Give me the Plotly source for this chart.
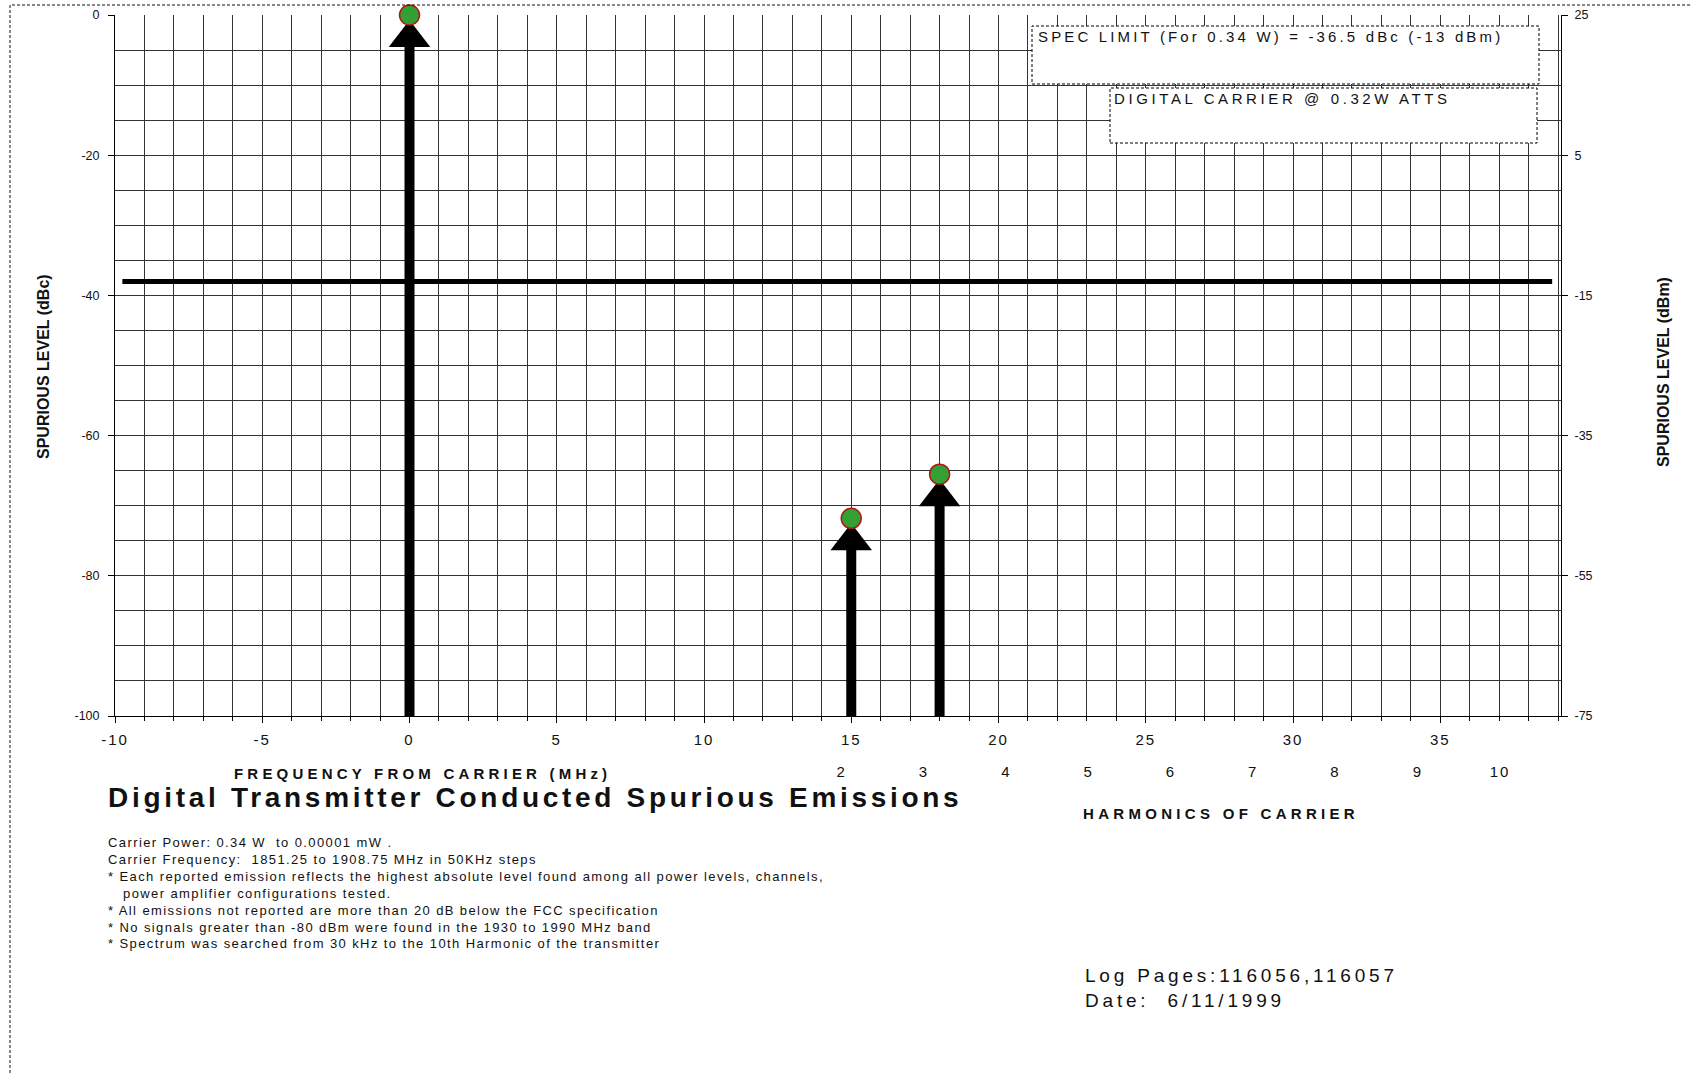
import plotly.graph_objects as go

# ---------------- data ----------------
freq_mhz = [0, 15, 18]                 # emission offsets from carrier (MHz)
level_dbc = [0, -71.8, -65.5]          # emission levels (dBc)
spec_limit_dbm = -13                   # FCC spec limit (dBm, right axis)
spec_x_mhz = [-9.75, 38.8]             # extent of the spec-limit line
x_tick_vals = [-10, -5, 0, 5, 10, 15, 20, 25, 30, 35]
y_left_ticks = [0, -20, -40, -60, -80, -100]
y_right_ticks = [25, 5, -15, -35, -55, -75]
harmonics = [2, 3, 4, 5, 6, 7, 8, 9, 10]
notes_lines = [
    "Carrier Power: 0.34 W  to 0.00001 mW .",
    "Carrier Frequency:  1851.25 to 1908.75 MHz in 50KHz steps",
    "* Each reported emission reflects the highest absolute level found among all power levels, channels,",
    "\u00a0\u00a0\u00a0power amplifier configurations tested.",
    "* All emissions not reported are more than 20 dB below the FCC specification",
    "* No signals greater than -80 dBm were found in the 1930 to 1990 MHz band",
    "* Spectrum was searched from 30 kHz to the 10th Harmonic of the transmitter",
]
log_lines = ["Log Pages:116056,116057", "Date:  6/11/1999"]

# ---------------- layout geometry ----------------
W, H = 1690, 1073
L, R, T, B = 115, 129, 15, 357
PW = W - L - R
PH = H - T - B
FONT = "Liberation Sans, Arial, sans-serif"


def px_x(px):
    return (px - L) / PW


def px_y(py):
    return (H - B - py) / PH


def spaced(txt, sp):
    return f"<span style='letter-spacing:{sp}px'>{txt}</span>"


db_per_px = 100.0 / PH
tri_off = 23 * db_per_px

fig = go.Figure()

# arrow shafts
sx, sy = [], []
for f, lv in zip(freq_mhz, level_dbc):
    sx += [f, f, None]
    sy += [-100, lv - tri_off, None]
fig.add_trace(go.Scatter(x=sx, y=sy, mode="lines",
                         line=dict(color="black", width=10),
                         hoverinfo="skip", showlegend=False))
# arrow heads
fig.add_trace(go.Scatter(x=freq_mhz, y=[lv - tri_off for lv in level_dbc],
                         mode="markers",
                         marker=dict(symbol="triangle-up", size=36, color="black",
                                     line=dict(width=0)),
                         cliponaxis=False, hoverinfo="skip", showlegend=False))
# emission markers
fig.add_trace(go.Scatter(x=freq_mhz, y=level_dbc, mode="markers",
                         marker=dict(symbol="circle", size=20, color="#33a033",
                                     line=dict(color="#b01818", width=1.5)),
                         cliponaxis=False, showlegend=False))
# spec limit line (right axis, dBm)
fig.add_trace(go.Scatter(x=spec_x_mhz, y=[spec_limit_dbm] * len(spec_x_mhz),
                         yaxis="y2", mode="lines",
                         line=dict(color="black", width=5),
                         hoverinfo="skip", showlegend=False))
# harmonic axis carrier trace (invisible)
fig.add_trace(go.Scatter(x=harmonics, y=[-100] * len(harmonics), xaxis="x3",
                         mode="markers", marker=dict(opacity=0),
                         hoverinfo="skip", showlegend=False))

grid_c = "#333333"
fig.update_layout(
    width=W, height=H,
    margin=dict(l=L, r=R, t=T, b=B, autoexpand=False),
    paper_bgcolor="white", plot_bgcolor="white",
    font=dict(family=FONT, color="#111111"),
    showlegend=False, hovermode=False,
    xaxis=dict(
        range=[-10, 39.1], tickmode="array", tickvals=x_tick_vals,
        ticktext=[spaced(str(v), 2) for v in x_tick_vals],
        ticks="outside", ticklen=6, tickcolor="black",
        showgrid=True, gridcolor=grid_c, gridwidth=1,
        minor=dict(tickmode="linear", tick0=-10, dtick=1, ticks="outside",
                   ticklen=4, tickcolor="black", showgrid=True,
                   gridcolor=grid_c, gridwidth=1),
        showline=True, linecolor="black", linewidth=1,
        zeroline=False, tickfont=dict(size=15, family=FONT),
        ticklabelstandoff=4, automargin=False, fixedrange=True,
    ),
    xaxis3=dict(
        overlaying="x", anchor="free", position=0, side="bottom",
        range=[-6.83, 10.74], tickmode="array", tickvals=harmonics,
        ticktext=[spaced(str(h), 2) for h in harmonics],
        ticks="", showgrid=False, showline=False, zeroline=False,
        tickfont=dict(size=15, family=FONT), ticklabelstandoff=45,
        automargin=False, fixedrange=True,
    ),
    yaxis=dict(
        range=[-100, 0], tickmode="array", tickvals=y_left_ticks,
        ticktext=[str(v) for v in y_left_ticks],
        ticks="outside", ticklen=6, tickcolor="black",
        showgrid=True, gridcolor=grid_c, gridwidth=1,
        minor=dict(tickmode="linear", tick0=0, dtick=5, ticks="",
                   showgrid=True, gridcolor=grid_c, gridwidth=1),
        showline=True, linecolor="black", linewidth=1,
        zeroline=False, tickfont=dict(size=12.5, family=FONT),
        ticklabelstandoff=6, automargin=False, fixedrange=True,
    ),
    yaxis2=dict(
        overlaying="y", side="right", range=[-75, 25],
        tickmode="array", tickvals=y_right_ticks,
        ticktext=[str(v) for v in y_right_ticks],
        ticks="outside", ticklen=6, tickcolor="black",
        showgrid=False, showline=True, linecolor="black", linewidth=1,
        zeroline=False, tickfont=dict(size=12.5, family=FONT),
        ticklabelstandoff=4, automargin=False, fixedrange=True,
    ),
)

shapes = [
    # page border (dashed)
    dict(type="rect", xref="paper", yref="paper",
         x0=px_x(10), x1=px_x(1700), y0=px_y(1085), y1=px_y(5),
         line=dict(color="#111111", width=1, dash="3px,2px"),
         fillcolor="rgba(0,0,0,0)", layer="above"),
    # text boxes
    dict(type="rect", xref="paper", yref="paper",
         x0=px_x(1032), x1=px_x(1539), y0=px_y(84), y1=px_y(26),
         line=dict(color="black", width=1, dash="3px,2px"),
         fillcolor="white", layer="above"),
    dict(type="rect", xref="paper", yref="paper",
         x0=px_x(1110), x1=px_x(1537), y0=px_y(143), y1=px_y(88),
         line=dict(color="black", width=1, dash="3px,2px"),
         fillcolor="white", layer="above"),
]
fig.update_layout(shapes=shapes)

ann = []


def add_text(text, px, py, size, bold=False, xanchor="left", yanchor="middle",
             angle=0, sp=0, align="left"):
    t = text
    if sp:
        t = spaced(t, sp)
    if bold:
        t = f"<b>{t}</b>"
    ann.append(dict(text=t, xref="paper", yref="paper", x=px_x(px), y=px_y(py),
                    xanchor=xanchor, yanchor=yanchor, showarrow=False,
                    textangle=angle, align=align,
                    font=dict(family=FONT, size=size, color="#111111")))


add_text("SPEC LIMIT (For 0.34 W) = -36.5 dBc (-13 dBm)", 1036, 37, 15, sp=3.15)
add_text("DIGITAL CARRIER @ 0.32W ATTS", 1112, 99, 15, sp=3.6)
add_text("FREQUENCY FROM CARRIER (MHz)", 232, 773, 15, bold=True, sp=4.2)
add_text("Digital Transmitter Conducted Spurious Emissions", 106, 798, 28,
         bold=True, sp=3.7)
add_text("HARMONICS OF CARRIER", 1081, 813, 15, bold=True, sp=4.3)
add_text("<br>".join(notes_lines), 106, 892.5, 13, sp=1.4)
add_text("<br>".join(log_lines), 1083, 988, 19, sp=3.8)
add_text("SPURIOUS LEVEL (dBc)", 43, 367, 16, bold=True, xanchor="center",
         angle=-90)
add_text("SPURIOUS LEVEL (dBm)", 1663, 372, 16, bold=True, xanchor="center",
         angle=-90)
fig.update_layout(annotations=ann)

fig.write_html("out.html", config={"displayModeBar": False},
               post_script="document.body.style.margin='0';")
